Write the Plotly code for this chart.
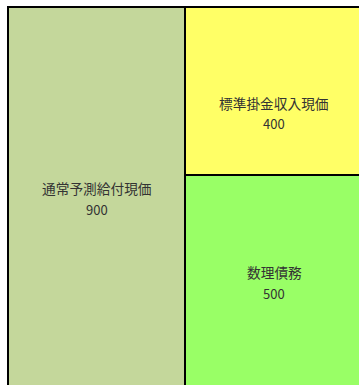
import plotly.graph_objects as go

# data
labels = ['通常予測給付現価', '数理債務', '標準掛金収入現価']
values = [900, 500, 400]
columns = [0, 1, 1]

colors = ['#C4D79B', '#99FF66', '#FFFF66']
text_shift = [-2, -2, -22]   # pixel nudge of each label block

fig = go.Figure()
bases = {}
for lab, val, col, colr in zip(labels, values, columns, colors):
    fig.add_trace(go.Bar(x=[col], y=[val], width=1,
                         marker_color=colr,
                         marker_line_color='#000000',
                         marker_line_width=2.5,
                         hoverinfo='skip',
                         showlegend=False))

annotations = []
for lab, val, col, sh in zip(labels, values, columns, text_shift):
    base = bases.get(col, 0)
    bases[col] = base + val
    mid = base + val / 2
    annotations.append(dict(x=col, y=mid, xref='x', yref='y', text=lab,
                            showarrow=False, yshift=sh + 10.5, xshift=1,
                            font=dict(size=13.7, color='#333333')))
    annotations.append(dict(x=col, y=mid, xref='x', yref='y', text=str(val),
                            showarrow=False, yshift=sh - 10.5, xshift=1,
                            font=dict(size=13, color='#333333')))

fig.update_layout(
    width=359, height=385,
    margin=dict(l=4, r=0, t=3, b=0),
    barmode='stack', bargap=0,
    paper_bgcolor='white', plot_bgcolor='white',
    font=dict(family='Noto Sans CJK JP, sans-serif'),
    xaxis=dict(range=[-0.5215, 1.4853], visible=False, fixedrange=True),
    yaxis=dict(range=[3.5, 908.77], visible=False, fixedrange=True),
    annotations=annotations,
)

# drop the page's default body margin so the figure sits at the window corner
fig.write_html("out.html", config={'displayModeBar': False},
               post_script="document.body.style.margin='0';")
